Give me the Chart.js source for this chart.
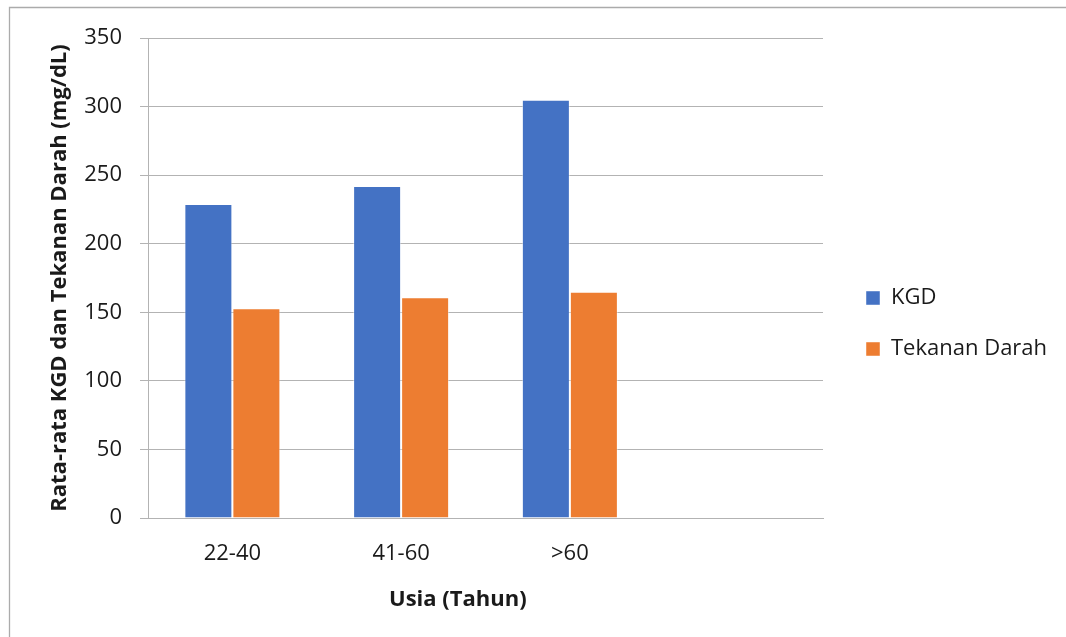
<!DOCTYPE html>
<html>
<head>
<meta charset="utf-8">
<script src="https://cdn.jsdelivr.net/npm/chart.js@4.4.0/dist/chart.umd.min.js"></script>
<style>
  html, body { margin: 0; padding: 0; background: #fff; }
  #wrap { width: 1066px; height: 637px; position: relative; }
</style>
</head>
<body>
<div id="wrap"><canvas id="c" width="1066" height="637"></canvas></div>
<script>
const categories = ['22-40', '41-60', '>60', ''];
const kgdValues = [229, 242, 305, null];
const tekananValues = [153, 161, 165, null];
const seriesNames = ['KGD', 'Tekanan Darah'];
const yTitle = 'Rata-rata KGD dan Tekanan Darah (mg/dL)';
const xTitle = 'Usia (Tahun)';

const FONT = "'Open Sans', 'Liberation Sans', sans-serif";
const GRID = '#b3b3b3';
const TEXT = '#1a1a1a';

const LEGEND_WIDTH = 243;   // space reserved on the right for the legend
const LEGEND_GAP = 14;      // extra gap between plot and legend

const framePlugin = {
  id: 'frame',
  beforeLayout(chart) {
    const lg = chart.legend;
    if (lg && !lg._patched) {
      const orig = lg.fit;
      lg.fit = function () {
        orig.call(this);
        this.width = LEGEND_WIDTH;
      };
      lg._patched = true;
    }
  },
  afterLayout(chart) {
    const lg = chart.legend;
    if (lg) {
      lg.left = chart.chartArea.right + LEGEND_GAP;
    }
  },
  beforeDraw(chart) {
    const ctx = chart.ctx;
    ctx.save();
    ctx.fillStyle = '#fff';
    ctx.fillRect(0, 0, chart.width, chart.height);
    ctx.strokeStyle = '#ababab';
    ctx.lineWidth = 1.3;
    ctx.beginPath();
    ctx.moveTo(9.5, chart.height + 5);
    ctx.lineTo(9.5, 7.5);
    ctx.lineTo(chart.width + 5, 7.5);
    ctx.stroke();
    ctx.restore();
  },
  afterDraw(chart) {
    const ctx = chart.ctx;
    const area = chart.chartArea;
    ctx.save();
    ctx.fillStyle = TEXT;
    ctx.font = 'bold 22px ' + FONT;
    ctx.textAlign = 'center';
    ctx.textBaseline = 'middle';
    ctx.fillText(xTitle, area.left + (area.right - area.left) * 0.459, 600);
    ctx.restore();
  }
};

new Chart(document.getElementById('c'), {
  type: 'bar',
  data: {
    labels: categories,
    datasets: [
      { label: seriesNames[0], data: kgdValues, backgroundColor: '#4472C4', borderColor: 'rgba(255,255,255,0.45)', borderWidth: 1 },
      { label: seriesNames[1], data: tekananValues, backgroundColor: '#ED7D31', borderColor: 'rgba(255,255,255,0.45)', borderWidth: 1 }
    ]
  },
  options: {
    responsive: false,
    animation: false,
    devicePixelRatio: 1,
    layout: { padding: { left: 40, top: 38, right: 0, bottom: 28 } },
    datasets: { bar: { categoryPercentage: 0.569, barPercentage: 1.0 } },
    plugins: {
      tooltip: { enabled: false },
      legend: {
        position: 'right',
        align: 'center',
        labels: {
          boxWidth: 14,
          boxHeight: 14,
          padding: 29,
          color: TEXT,
          font: { family: FONT, size: 22 }
        }
      }
    },
    scales: {
      x: {
        grid: { display: false, drawTicks: false },
        border: { display: true, color: GRID, width: 1 },
        ticks: { color: TEXT, font: { family: FONT, size: 22 }, padding: 23, maxRotation: 0 },
        afterFit(s) { s.height = 91; }
      },
      y: {
        min: 0,
        max: 350,
        ticks: { stepSize: 50, color: TEXT, font: { family: FONT, size: 22 }, padding: 18 },
        grid: { color: GRID, lineWidth: 1, tickLength: 8, drawTicks: true },
        border: { display: true, color: GRID, width: 1 },
        title: {
          display: true,
          text: yTitle,
          color: TEXT,
          font: { family: FONT, size: 22, weight: 'bold' },
          padding: { top: 7, bottom: 0 }
        },
        afterFit(s) { s.width = 108; }
      }
    }
  },
  plugins: [framePlugin]
});
</script>
</body>
</html>
